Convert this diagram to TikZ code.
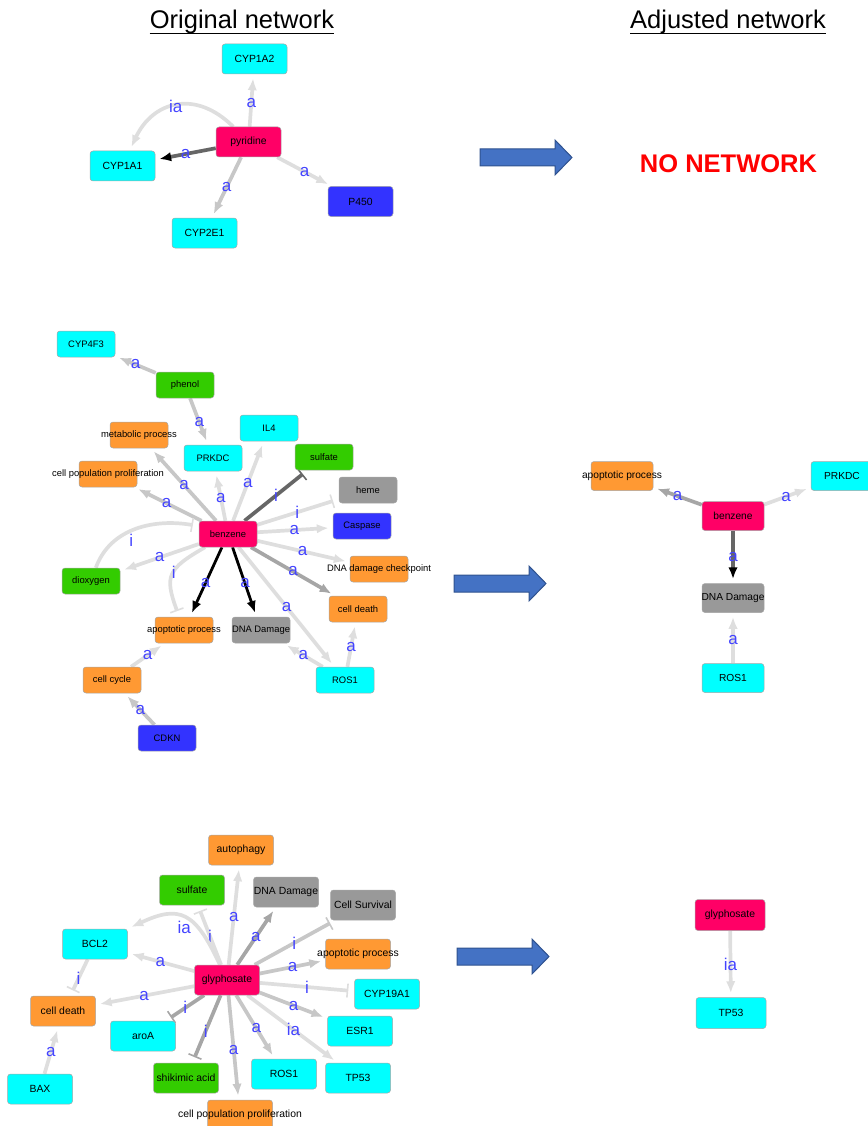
\documentclass[tikz,border=0pt]{standalone}
\usepackage{fontspec}
\setmainfont{Liberation Sans}
\usetikzlibrary{arrows.meta}

\definecolor{nwcyan}{RGB}{0,255,255}
\definecolor{nwpink}{RGB}{255,0,102}
\definecolor{nwblue}{RGB}{51,51,255}
\definecolor{nwgreen}{RGB}{51,204,0}
\definecolor{nworange}{RGB}{255,153,51}
\definecolor{nwgrey}{RGB}{153,153,153}
\definecolor{lblue}{RGB}{68,68,255}
\definecolor{arrfill}{RGB}{68,114,196}
\definecolor{arrline}{RGB}{47,82,143}

\pgfdeclarelayer{bg}
\pgfsetlayers{bg,main}

\newcommand{\ovtext}[1]{\makebox[0pt]{#1}}
\newcommand{\bigarrow}[2]{%
  \draw[fat] (#1,#2) ++(0,-8.5) -- ++(75,0) -- ++(0,-9) -- ++(17,17.5)
    -- ++(-17,17.5) -- ++(0,-9) -- ++(-75,0) -- cycle;}

\tikzset{
  nd/.style = {draw=black!35, line width=0.5pt, rounded corners=3pt, inner sep=0pt,
               minimum width=65pt, minimum height=30pt, font=\fontsize{10.4}{12}\selectfont},
  sm/.style = {minimum width=58pt, minimum height=26pt, font=\fontsize{9.4}{11}\selectfont},
  md/.style = {minimum width=62pt, minimum height=29pt, font=\fontsize{10.2}{12}\selectfont},
  wd/.style = {minimum width=70pt, minimum height=31pt},
  cy/.style = {nd, fill=nwcyan},
  pk/.style = {nd, fill=nwpink},
  bl/.style = {nd, fill=nwblue},
  gr/.style = {nd, fill=nwgreen},
  or/.style = {nd, fill=nworange},
  gy/.style = {nd, fill=nwgrey},
  act/.style = {line width=3.7pt, shorten >=4pt, -{Latex[length=12pt,width=9.5pt]}},
  inh/.style = {line width=3.7pt, shorten >=6pt, -{Bar[width=14pt,line width=1.6pt]}},
  tipblk/.style = {-{Latex[length=12pt,width=9.5pt,color=black]}},
  lite/.style = {draw=black!13},
  semi/.style = {draw=black!22},
  mid/.style = {draw=black!35},
  dark/.style = {draw=black!60},
  blk/.style = {draw=black, line width=2.8pt},
  lab/.style = {font=\fontsize{17}{17}\selectfont, text=lblue, inner sep=0pt},
  ttl/.style = {font=\fontsize{25.5}{28}\selectfont, inner sep=0pt, anchor=base},
  fat/.style = {fill=arrfill, draw=arrline, line width=1pt}
}

\begin{document}
\begin{tikzpicture}[x=1pt, y=1pt]

  \useasboundingbox (0,0) rectangle (867,-1126);

  % titles
  \node[ttl] (ttlorig) at (242,-29) {Original network};
  \node[ttl] (ttladj) at (728,-29) {Adjusted network};
  \draw[line width=1.6pt] ([yshift=-4.5pt]ttlorig.base west) -- ([yshift=-4.5pt]ttlorig.base east);
  \draw[line width=1.6pt] ([yshift=-4.5pt]ttladj.base west) -- ([yshift=-4.5pt]ttladj.base east);

  % pyridine
  \node[pk] (pyr) at (248.5,-142) {pyridine};
  \node[cy] (cyp1a2) at (254.5,-59) {CYP1A2};
  \node[cy] (cyp1a1) at (122.5,-166) {CYP1A1};
  \node[bl] (p450) at (360.5,-201.5) {P450};
  \node[cy] (cyp2e1) at (204.5,-233) {CYP2E1};

  \node[font=\bfseries\fontsize{25.5}{28}\selectfont, text=red, inner sep=0pt] (nonet) at (728.5,-164) {NO NETWORK};

  % benzene
  \node[cy, sm] (cyp4f3) at (86,-344) {CYP4F3};
  \node[gr, sm] (phenol) at (185,-385) {phenol};
  \node[or, sm] (metab) at (139,-435) {\ovtext{metabolic process}};
  \node[cy, sm] (il4) at (269,-428) {IL4};
  \node[cy, sm] (prkdc) at (213,-458) {PRKDC};
  \node[gr, sm] (sulf) at (324,-457) {sulfate};
  \node[or, sm] (cpp) at (108,-474) {\ovtext{cell population proliferation}};
  \node[gy, sm] (heme) at (368,-490) {heme};
  \node[pk, sm] (benz) at (228,-534) {benzene};
  \node[bl, sm] (casp) at (362,-526) {Caspase};
  \node[or, sm] (ddc) at (379,-569) {\ovtext{DNA damage checkpoint}};
  \node[gr, sm] (diox) at (91,-581) {dioxygen};
  \node[or, sm] (cdeath) at (358,-609) {cell death};
  \node[or, sm] (apop) at (184,-630) {\ovtext{apoptotic process}};
  \node[gy, sm] (dnad) at (261,-630) {\ovtext{DNA Damage}};
  \node[or, sm] (ccyc) at (112,-680) {cell cycle};
  \node[cy, sm] (ros1) at (345,-680) {ROS1};
  \node[bl, sm] (cdkn) at (167,-738) {CDKN};

  \node[or, md] (apop2) at (622,-476) {\ovtext{apoptotic process}};
  \node[cy, md] (prkdc2) at (842,-476) {PRKDC};
  \node[pk, md] (benz2) at (733,-516) {benzene};
  \node[gy, md] (dnad2) at (733,-598) {\ovtext{DNA Damage}};
  \node[cy, md] (ros2) at (733,-678) {ROS1};

  % glyphosate
  \node[or] (autoph) at (241,-850) {autophagy};
  \node[gr] (sulf3) at (192,-890) {sulfate};
  \node[gy] (dnad3) at (286,-892) {\ovtext{DNA Damage}};
  \node[gy] (csurv) at (363,-905) {Cell Survival};
  \node[cy] (bcl2) at (95,-944) {BCL2};
  \node[or] (apop3) at (358,-954) {\ovtext{apoptotic process}};
  \node[pk] (gly) at (227,-980) {glyphosate};
  \node[cy] (cyp19) at (387,-994) {CYP19A1};
  \node[or] (cdeath3) at (63,-1011) {cell death};
  \node[cy] (aroa) at (143,-1036) {aroA};
  \node[cy] (esr1) at (360,-1031) {ESR1};
  \node[gr] (shik) at (186,-1078) {shikimic acid};
  \node[cy] (ros3) at (284,-1074) {ROS1};
  \node[cy] (tp53) at (358,-1078) {TP53};
  \node[cy] (bax) at (40,-1089) {BAX};
  \node[or] (cpp3) at (240,-1115) {\ovtext{cell population proliferation}};

  \node[pk, wd] (gly2) at (730,-915) {glyphosate};
  \node[cy, wd] (tp2) at (731,-1013) {TP53};

  % block arrows
  \bigarrow{480}{-157.5}
  \bigarrow{454}{-583.5}
  \bigarrow{457}{-956.5}

  \begin{pgfonlayer}{bg}
    \draw[act, lite] (pyr) -- node[lab, pos=.45] {a} (cyp1a2);
    \draw[act, dark, tipblk] (pyr) -- node[lab, pos=.5] {a} (cyp1a1);
    \draw[act, lite] (pyr) to[out=135, in=65, looseness=1.3] node[lab, pos=.5] {ia} (cyp1a1);
    \draw[act, semi] (pyr) -- node[lab, pos=.5] {a} (cyp2e1);
    \draw[act, lite] (pyr) -- node[lab, pos=.5] {a} (p450);

    \draw[act, semi] (phenol) -- node[lab, pos=.5] {a} (cyp4f3);
    \draw[act, semi] (phenol) -- node[lab, pos=.52] {a} (prkdc);
    \draw[act, semi] (benz) -- node[lab, pos=.49] {a} (metab);
    \draw[act, semi] (benz) -- node[lab, pos=.52] {a} (cpp);
    \draw[act, lite] (benz) -- node[lab, pos=.46] {a} (prkdc);
    \draw[act, lite] (benz) -- node[lab, pos=.48] {a} (il4);
    \draw[inh, dark] (benz) -- node[lab, pos=.5] {i} (sulf);
    \draw[inh, lite] (benz) -- node[lab, pos=.49] {i} (heme);
    \draw[act, lite] (benz) -- node[lab, pos=.49] {a} (casp);
    \draw[act, lite] (benz) -- node[lab, pos=.49] {a} (ddc);
    \draw[act, mid] (benz) -- node[lab, pos=.5] {a} (cdeath);
    \draw[act, lite] (benz) -- node[lab, pos=.5] {a} (ros1);
    \draw[act, blk] (benz) -- node[lab, pos=.52] {a} (dnad);
    \draw[act, blk] (benz) -- node[lab, pos=.51] {a} (apop);
    \draw[inh, lite] (benz) to[out=210, in=110, looseness=1.5] node[lab, pos=.45] {i} (apop);
    \draw[inh, lite] (diox) to[out=70, in=170] node[lab, pos=.45, below=1pt] {i} (benz.165);
    \draw[act, lite] (benz) -- node[lab, pos=.5] {a} (diox);
    \draw[act, lite] (ccyc) -- node[lab, pos=.49] {a} (apop);
    \draw[act, semi] (cdkn) -- node[lab, pos=.47] {a} (ccyc);
    \draw[act, lite] (ros1) -- node[lab, pos=.49] {a} (dnad);
    \draw[act, lite] (ros1) -- node[lab, pos=.45] {a} (cdeath);

    \draw[act, mid] (benz2) -- node[lab, pos=.5] {a} (apop2);
    \draw[act, lite] (benz2) -- node[lab, pos=.47] {a} (prkdc2);
    \draw[act, dark, tipblk] (benz2) -- node[lab, pos=.5] {a} (dnad2);
    \draw[act, lite] (ros2) -- node[lab, pos=.46] {a} (dnad2);

    \draw[act, lite] (gly) -- node[lab, pos=.48] {a} (autoph);
    \draw[inh, lite] (gly) -- node[lab, pos=.48] {i} (sulf3);
    \draw[act, mid] (gly) -- node[lab, pos=.48] {a} (dnad3);
    \draw[inh, semi] (gly) -- node[lab, pos=.49] {i} (csurv);
    \draw[act, lite] (gly) to[out=115, in=25, looseness=1.5] node[lab, pos=.5, below=1pt] {ia} (bcl2);
    \draw[act, lite] (gly) -- node[lab, pos=.51] {a} (bcl2);
    \draw[act, semi] (gly) -- node[lab, pos=.5] {a} (apop3);
    \draw[inh, lite] (gly) -- node[lab, pos=.5] {i} (cyp19);
    \draw[act, lite] (gly) -- node[lab, pos=.51] {a} (cdeath3);
    \draw[inh, mid] (gly) -- node[lab, pos=.49] {i} (aroa);
    \draw[act, semi] (gly) -- node[lab, pos=.5] {a} (esr1);
    \draw[inh, mid] (gly) -- node[lab, pos=.53] {i} (shik);
    \draw[act, semi] (gly) -- node[lab, pos=.52] {a} (cpp3);
    \draw[act, semi] (gly) -- node[lab, pos=.52] {a} (ros3);
    \draw[act, lite] (gly) -- node[lab, pos=.51] {ia} (tp53);
    \draw[inh, lite] (bcl2) -- node[lab, pos=.53] {i} (cdeath3);
    \draw[act, lite] (bax) -- node[lab, pos=.46] {a} (cdeath3);

    \draw[act, lite] (gly2) -- node[lab, pos=.51] {ia} (tp2);
  \end{pgfonlayer}

\end{tikzpicture}
\end{document}
